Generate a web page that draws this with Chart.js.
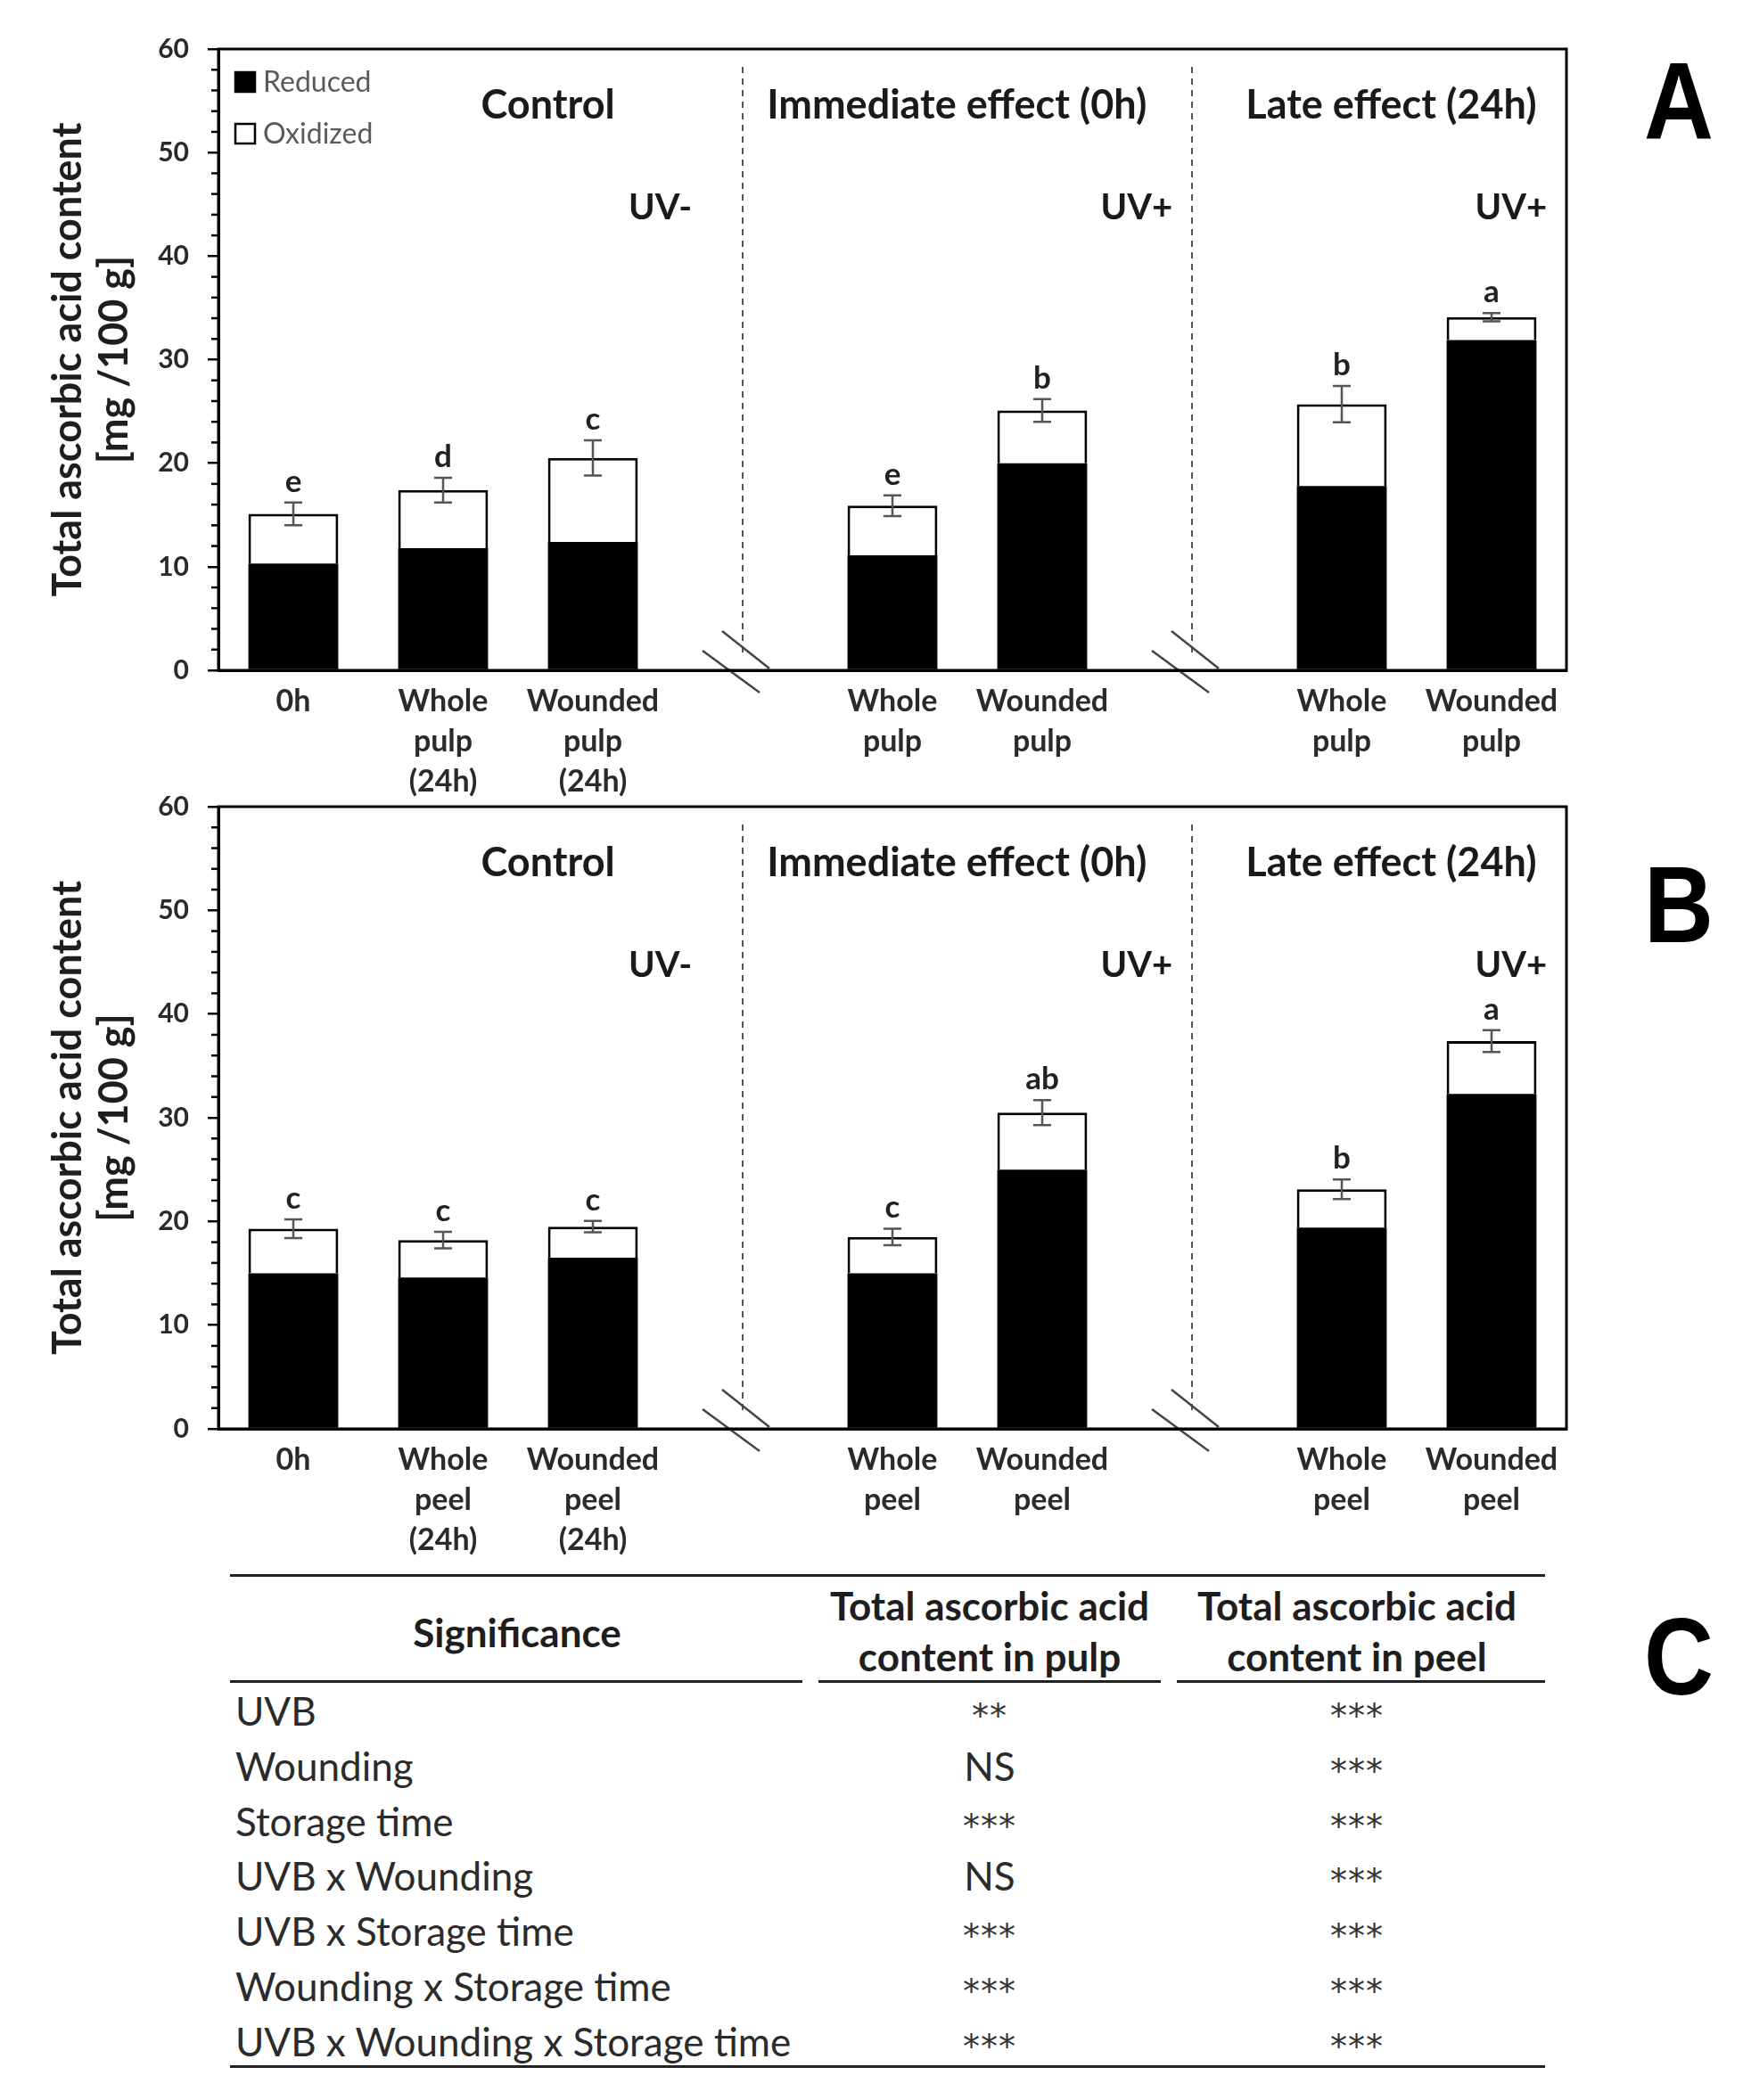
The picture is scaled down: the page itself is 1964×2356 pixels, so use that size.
<!DOCTYPE html>
<html>
<head>
<meta charset="utf-8">
<script src="https://cdn.jsdelivr.net/npm/chart.js@4.4.1/dist/chart.umd.min.js"></script>
<style>
  html, body { margin: 0; padding: 0; background: #fff; }
  #page { position: relative; width: 1964px; height: 2356px; overflow: hidden; font-family: Lato, "Open Sans", sans-serif; }
  canvas { position: absolute; left: 0; }
  #chartA { top: 0; }
  #chartB { top: 850px; }
  .panel { position: absolute; left: 1783px; width: 200px; text-align: center; font-family: "Liberation Sans", Arial, sans-serif; font-weight: bold; font-size: 108px; line-height: 1; color: #000; transform-origin: 50% 52.8px; transform: scaleY(1.125); }
  .hline { position: absolute; height: 3px; background: #222; }
  .cell { position: absolute; white-space: nowrap; color: #2b2b2b; font-size: 44px; line-height: 1; }
  .star { font-family: "DejaVu Sans", sans-serif; font-size: 38px; color: #333; letter-spacing: 1px; }
  .head { font-weight: bold; color: #1e1e1e; text-align: center; }
</style>
</head>
<body>
<div id="page">
  <canvas id="chartA" width="1800" height="900"></canvas>
  <canvas id="chartB" width="1800" height="910"></canvas>
  <div class="panel" style="top:60px">A</div>
  <div class="panel" style="top:961px">B</div>
  <div class="panel" style="top:1805px">C</div>
  <div id="table"></div>
</div>
<script>
// ---- data ----
const pulpLabels = [['0h'], ['Whole', 'pulp', '(24h)'], ['Wounded', 'pulp', '(24h)'], '', ['Whole', 'pulp'], ['Wounded', 'pulp'], '', ['Whole', 'pulp'], ['Wounded', 'pulp']];
const peelLabels = [['0h'], ['Whole', 'peel', '(24h)'], ['Wounded', 'peel', '(24h)'], '', ['Whole', 'peel'], ['Wounded', 'peel'], '', ['Whole', 'peel'], ['Wounded', 'peel']];

const pulpReduced  = [10.3, 11.8, 12.4, null, 11.1, 20.0, null, 17.8, 31.9];
const pulpOxidized = [4.8, 5.6, 8.1, null, 4.8, 5.1, null, 7.9, 2.2];
const pulpError    = [1.1, 1.2, 1.7, null, 1.0, 1.1, null, 1.75, 0.4];
const pulpLetters  = ['e', 'd', 'c', '', 'e', 'b', '', 'b', 'a'];

const peelReduced  = [15.0, 14.6, 16.5, null, 15.0, 25.0, null, 19.4, 32.3];
const peelOxidized = [4.3, 3.6, 3.0, null, 3.5, 5.5, null, 3.7, 5.1];
const peelError    = [0.9, 0.8, 0.55, null, 0.8, 1.2, null, 0.95, 1.05];
const peelLetters  = ['c', 'c', 'c', '', 'c', 'ab', '', 'b', 'a'];

const gapSlots    = [3, 6];
const groupTitles = ['Control', 'Immediate effect (0h)', 'Late effect (24h)'];
const uvLabels    = ['UV-', 'UV+', 'UV+'];

const sigFactors = ['UVB', 'Wounding', 'Storage time', 'UVB x Wounding', 'UVB x Storage time', 'Wounding x Storage time', 'UVB x Wounding x Storage time'];
const sigPulp    = ['**', 'NS', '***', 'NS', '***', '***', '***'];
const sigPeel    = ['***', '***', '***', '***', '***', '***', '***'];

// ---- layout (positions in category / value units) ----
const titleAt = [1.70, 4.43, 7.33], titleY = 54.5;
const uvAt = [2.45, 5.63, 8.13], uvY = 44.7;

const decor = {
  id: 'decor',
  afterDatasetsDraw(chart, args, o) {
    const { ctx, chartArea: a, scales: { x, y } } = chart;
    ctx.save();
    // minor ticks
    ctx.strokeStyle = '#000';
    ctx.lineWidth = 2.5;
    for (let v = 2; v < 60; v += 2) {
      if (v % 10 === 0) continue;
      const py = y.getPixelForValue(v);
      ctx.beginPath(); ctx.moveTo(a.left - 8, py); ctx.lineTo(a.left, py); ctx.stroke();
    }
    // dashed separators + axis break marks
    gapSlots.forEach(g => {
      const px = x.getPixelForValue(g);
      ctx.setLineDash([7, 6]);
      ctx.strokeStyle = '#555';
      ctx.lineWidth = 2;
      ctx.beginPath(); ctx.moveTo(px, a.top + 20); ctx.lineTo(px, a.bottom - 19); ctx.stroke();
      ctx.setLineDash([]);
      ctx.strokeStyle = '#444';
      ctx.lineWidth = 2.5;
      ctx.beginPath(); ctx.moveTo(px - 45, a.bottom - 22); ctx.lineTo(px + 19, a.bottom + 25); ctx.stroke();
      ctx.beginPath(); ctx.moveTo(px - 23, a.bottom - 44); ctx.lineTo(px + 30, a.bottom - 2); ctx.stroke();
    });
    // error bars and letters
    o.err.forEach((e, i) => {
      if (e == null) return;
      const tot = o.red[i] + o.ox[i];
      const px = x.getPixelForValue(i);
      const yt = y.getPixelForValue(tot + e), yb = y.getPixelForValue(tot - e);
      ctx.strokeStyle = '#555';
      ctx.lineWidth = 2.5;
      ctx.beginPath();
      ctx.moveTo(px, yt); ctx.lineTo(px, yb);
      ctx.moveTo(px - 10, yt); ctx.lineTo(px + 10, yt);
      ctx.moveTo(px - 10, yb); ctx.lineTo(px + 10, yb);
      ctx.stroke();
      ctx.fillStyle = '#222';
      ctx.font = 'bold 35px Lato';
      ctx.textAlign = 'center';
      ctx.textBaseline = 'alphabetic';
      ctx.fillText(o.letters[i], px, yt - 12);
    });
    // group titles
    ctx.fillStyle = '#1a1a1a';
    ctx.textAlign = 'center';
    ctx.textBaseline = 'middle';
    ctx.font = 'bold 45px Lato';
    groupTitles.forEach((t, k) => ctx.fillText(t, x.getPixelForValue(titleAt[k]), y.getPixelForValue(titleY)));
    ctx.font = 'bold 40px Lato';
    uvLabels.forEach((t, k) => ctx.fillText(t, x.getPixelForValue(uvAt[k]), y.getPixelForValue(uvY)));
    // legend
    if (o.legend) {
      chart.data.datasets.forEach((ds, k) => {
        const cy = a.top + 37 + k * 58;
        ctx.fillStyle = ds.backgroundColor;
        ctx.fillRect(a.left + 18, cy - 12, 24, 24);
        ctx.strokeStyle = '#000';
        ctx.lineWidth = 2.5;
        ctx.strokeRect(a.left + 19, cy - 11, 22, 22);
        ctx.fillStyle = '#5a5a5a';
        ctx.font = '32px Lato';
        ctx.textAlign = 'left';
        ctx.fillText(ds.label, a.left + 50, cy + 1);
      });
    }
    // frame
    ctx.strokeStyle = '#000';
    ctx.lineWidth = 3;
    ctx.strokeRect(a.left, a.top, a.width, a.height);
    ctx.restore();
  }
};

function makeChart(id, labels, red, ox, err, letters, legend, xHeight) {
  return new Chart(document.getElementById(id), {
    type: 'bar',
    plugins: [decor],
    data: {
      labels: labels,
      datasets: [{
        label: 'Reduced',
        data: red,
        backgroundColor: '#000',
        borderWidth: 0,
        barPercentage: 0.6,
        categoryPercentage: 1
      }, {
        label: 'Oxidized',
        data: ox,
        backgroundColor: '#fff',
        borderColor: '#000',
        borderWidth: 3,
        borderSkipped: 'bottom',
        barPercentage: 0.6,
        categoryPercentage: 1
      }]
    },
    options: {
      responsive: false,
      animation: false,
      devicePixelRatio: 1,
      layout: { padding: { top: 55, right: 43, left: 0, bottom: 0 } },
      plugins: {
        legend: { display: false },
        tooltip: { enabled: false },
        decor: { red: red, ox: ox, err: err, letters: letters, legend: legend }
      },
      scales: {
        x: {
          stacked: true,
          grid: { display: false },
          border: { display: true, color: '#000', width: 3 },
          ticks: { color: '#2a2a2a', font: { family: 'Lato', weight: 'bold', size: 34, lineHeight: 1.32 }, padding: 5, maxRotation: 0, autoSkip: false },
          afterFit: s => { s.height = xHeight; }
        },
        y: {
          stacked: true,
          min: 0,
          max: 60,
          ticks: { stepSize: 10, color: '#2a2a2a', font: { family: 'Lato', weight: 'bold', size: 30 }, padding: 21 },
          grid: { drawOnChartArea: false, drawTicks: true, tickLength: 12, color: '#000', lineWidth: 2.5 },
          border: { display: true, color: '#000', width: 3 },
          title: {
            display: true,
            text: ['Total ascorbic acid content', '[mg /100 g]'],
            color: '#1e1e1e',
            font: { family: 'Lato', weight: 'bold', size: 45, lineHeight: 1.16 },
            padding: { top: 50, bottom: 0 }
          },
          afterFit: s => { s.width = 245; }
        }
      }
    }
  });
}

makeChart('chartA', pulpLabels, pulpReduced, pulpOxidized, pulpError, pulpLetters, true, 148);
makeChart('chartB', peelLabels, peelReduced, peelOxidized, peelError, peelLetters, false, 157);

// ---- significance table ----
const tb = document.getElementById('table');
function put(html, cls, style) {
  const d = document.createElement('div');
  d.className = cls;
  d.setAttribute('style', style);
  d.innerHTML = html;
  tb.appendChild(d);
}
put('', 'hline', 'left:258px;top:1766px;width:1475px;');
put('', 'hline', 'left:258px;top:1885px;width:642px;');
put('', 'hline', 'left:918px;top:1885px;width:384px;');
put('', 'hline', 'left:1320px;top:1885px;width:413px;');
put('', 'hline', 'left:258px;top:2317px;width:1475px;');
put('Significance', 'cell head', 'left:580px;top:1831px;transform:translate(-50%,-50%);');
put('Total ascorbic acid<br>content in pulp', 'cell head', 'left:1110px;top:1830px;transform:translate(-50%,-50%);line-height:57px;');
put('Total ascorbic acid<br>content in peel', 'cell head', 'left:1522px;top:1830px;transform:translate(-50%,-50%);line-height:57px;');
function sigCell(v, cx, cy) {
  const isStar = v.indexOf('*') >= 0;
  put(v, isStar ? 'cell star' : 'cell', 'left:' + cx + 'px;top:' + (isStar ? cy + 6 : cy) + 'px;transform:translate(-50%,-50%);');
}
sigFactors.forEach((f, i) => {
  const cy = 1919 + i * 61.8;
  put(f, 'cell', 'left:264px;top:' + cy + 'px;transform:translateY(-50%);');
  sigCell(sigPulp[i], 1110, cy);
  sigCell(sigPeel[i], 1522, cy);
});
</script>
</body>
</html>
